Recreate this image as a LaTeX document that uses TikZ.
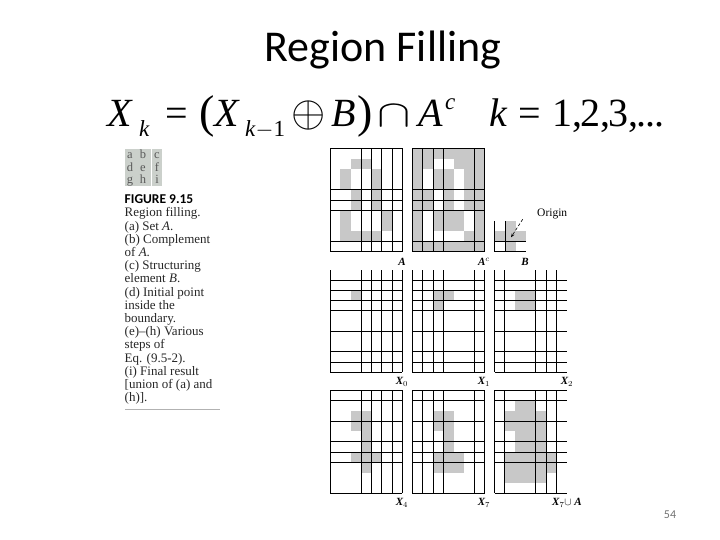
\documentclass[tikz,border=0pt]{standalone}
\usepackage{fix-cm,fontspec,amsmath}
\setmainfont{Liberation Serif}
\newfontfamily\titlefont{Carlito}
\usetikzlibrary{arrows.meta,positioning}
\definecolor{cellgray}{HTML}{C8C8C8}
\definecolor{keygray}{HTML}{CBD0CB}
\tikzset{
  cell/.style={fill=cellgray,draw=none},
  gridline/.style={line width=0.9pt,black},
  fm/.style={font=\fontsize{40}{40}\selectfont,anchor=base west},
  fmsub/.style={font=\fontsize{23}{23}\selectfont,anchor=base west},
  captext/.style={font=\fontsize{13}{13.2}\selectfont,align=left,anchor=north west,inner sep=0pt,text=black!85},
  paneltag/.style={font=\fontsize{11}{11}\selectfont\bfseries\itshape},
}
% panel: left, top, row height, rows with lines, columns with lines, gray cells as col/row
\newcommand{\panel}[6]{%
  \begin{scope}[shift={(#1,#2)},x=10.35pt,y=-#3pt]
    \foreach \c/\r in {#6} \fill[cell] (\c,\r) rectangle ++(1,1);
    \foreach \r in {#4} \draw[gridline] (0,\r) -- (7,\r);
    \foreach \c in {#5} \draw[gridline] (\c,0) -- (\c,10);
  \end{scope}}
\begin{document}
\begin{tikzpicture}[x=1pt,y=-1pt,every node/.style={inner sep=0pt}]
\useasboundingbox (0,0) rectangle (720,540);
\node[font=\titlefont\fontsize{44}{46}\selectfont,anchor=base] (title) at (383,62) {Region Filling};
% formula
\node[fm] (x1) at (107,126.7) {\textit{X}};
\node[fmsub] (k1) at (139,136.7) {\textit{k}};
\node[fm] (eq1) at (165,126.7) {=};
\node[fm,font=\fontsize{46}{46}\selectfont] (lp) at (199,127.5) {(};
\node[fm] (x2) at (214,126.7) {\textit{X}};
\node[fmsub] (k2) at (245,136.7) {\textit{k}$-$1};
\node[fm,font=\fontsize{44}{44}\selectfont] (op) at (291,126.7) {$\oplus$};
\node[fm] (bb) at (331,126.7) {\textit{B}};
\node[fm,font=\fontsize{46}{46}\selectfont] (rp) at (357,127.5) {)};
\node[fm] (cp) at (377,126.7) {\scalebox{1.25}[0.95]{$\cap$}};
\node[fm] (aa) at (418,126.7) {\textit{A}};
\node[fmsub] (cc) at (445,110) {\textit{c}};
\node[fm] (k3) at (489,126.7) {\textit{k}};
\node[fm] (eq2) at (518,126.7) {=};
\node[fm] (nums) at (552,126.7) {1,\kern-1.8pt2,\kern-1.8pt3,\kern-1.8pt.\kern-1pt.\kern-1pt.};
% key to the panels
\fill[keygray] (125,149) rectangle (161.5,186.5);
\draw[white,line width=0.8pt] (151,149) -- (151,186.5);
\foreach \t/\x/\y [count=\i] in {a/130/159,b/143/159,c/157/159,d/130/172,e/143/172,f/157/172,g/130/184,h/143/184,i/157/184}
  \node[font=\fontsize{12.5}{13}\selectfont,text=black!65,anchor=base] (key\i) at (\x,\y) {\t};
\node[font=\titlefont\bfseries\fontsize{13.5}{14}\selectfont,anchor=base west] (fig) at (124.5,204) {FIGURE 9.15};
\node[captext] (cap) at (124.5,207.5) {Region filling.\\(a) Set \textit{A}.\\(b) Complement\\of \textit{A}.\\(c) Structuring\\element \textit{B}.\\(d) Initial point\\inside the\\boundary.\\(e)--(h) Various\\steps of\\Eq. (9.5-2).\\(i) Final result\\{[}union of (a) and\\(h)].};
\draw[black!30,line width=0.8pt] (125,409) -- (220,409);
% first row
\panel{330}{148.3}{10.34}{0,4,5,6,9,10}{0,3,4,5,6,7}{2/1,3/1,1/2,4/2,1/3,4/3,2/4,4/4,2/5,4/5,1/6,5/6,1/7,5/7,1/8,2/8,3/8,4/8}
\panel{412.3}{148.3}{10.34}{0,4,5,6,9,10}{0,1,2,3,6,7}{0/0,1/0,2/0,3/0,4/0,5/0,6/0,0/1,1/1,4/1,5/1,6/1,0/2,2/2,3/2,5/2,6/2,0/3,2/3,3/3,5/3,6/3,0/4,1/4,3/4,5/4,6/4,0/5,1/5,3/5,5/5,6/5,0/6,2/6,3/6,4/6,6/6,0/7,2/7,3/7,4/7,6/7,0/8,5/8,6/8,0/9,1/9,2/9,3/9,4/9,5/9,6/9}
\fill[cell] (505.7,221) rectangle (515.9,251.7);
\fill[cell] (494.5,231) rectangle (525.7,241.5);
\draw[gridline] (494.5,241.5) -- (525.7,241.5);
\draw[gridline] (494.5,251.7) -- (525.7,251.7);
\draw[gridline] (494.5,221) -- (494.5,251.7);
\draw[gridline] (505.7,221) -- (505.7,251.7);
\node[font=\fontsize{11.5}{12}\selectfont,anchor=west] (origin) at (537,214) {Origin};
\coordinate (tail) at (522.7,219.3);
\coordinate (orig) at (511,237.3);
\draw[densely dashed,-{Stealth[length=4pt]},line width=0.6pt] (tail) -- (orig);
% second row
\panel{330}{270}{10.23}{1,2,3,4,6,8,9,10}{0,3,4,5,6,7}{2/2}
\panel{412.3}{270}{10.23}{1,2,3,4,6,8,9,10}{0,1,2,3,6,7}{2/2,3/2,2/3}
\panel{494.5}{270}{10.23}{1,2,3,4,6,8,9,10}{0,1,4,5,6}{2/2,3/2,2/3,3/3}
% third row
\panel{330}{390}{10.33}{0,1,3,5,6,7,10}{0,3,4,5,6,7}{2/2,3/2,2/3,3/3,3/4,3/5,2/6,3/6,4/6,3/7}
\panel{412.3}{390}{10.33}{0,1,3,5,6,7,10}{0,1,2,3,6,7}{2/2,3/2,2/3,3/3,3/4,3/5,2/6,3/6,4/6,2/7,3/7,4/7}
\panel{494.5}{390}{10.33}{0,1,3,5,6,7,10}{0,1,4,5,6}{2/1,3/1,1/2,2/2,3/2,4/2,1/3,2/3,3/3,4/3,2/4,3/4,4/4,2/5,3/5,4/5,1/6,2/6,3/6,4/6,5/6,1/7,2/7,3/7,4/7,5/7,1/8,2/8,3/8,4/8}
% labels
\foreach \n/\t/\x/\y in {la/A/402/262,lac/A$^c$/484/262,lb/B/525/262,lx0/X$_0$/402/382,lx1/X$_1$/484/382,lx2/X$_2$/567/382,lx4/X$_4$/402/503,lx7/X$_7$/484/503,lxa/X$_7\cup$ A/567/503}
  \node[paneltag] (\n) at (\x,\y) {\t};
\node[font=\titlefont\fontsize{12}{12}\selectfont,text=black!55] (page) at (670,515) {54};
\end{tikzpicture}
\end{document}
